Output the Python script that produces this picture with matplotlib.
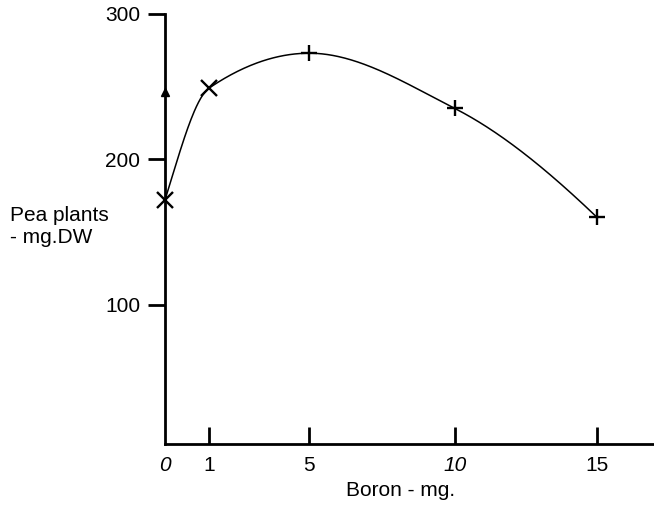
import numpy as np
import matplotlib.pyplot as plt

plt.rcParams['font.family'] = ['Liberation Sans', 'DejaVu Sans']

# measured data
boron = [0, 1, 5, 10, 15]
dry_weight = [172, 249, 273, 235, 160]
point_markers = ['x', 'x', '+', '+', '+']
arrow_x, arrow_y = 0, 246

x_ticks = [0, 1, 5, 10, 15]
y_ticks = [100, 200, 300]

# the original x axis is not evenly spaced: piecewise-linear scale
x_knots = [0, 1, 5, 10, 15, 20]
x_pos = [0, 44, 144, 289, 431, 573]


def forward(x):
    return np.interp(x, x_knots, x_pos)


def inverse(u):
    return np.interp(u, x_pos, x_knots)


def pchip(u, y, uu):
    # shape-preserving cubic (Fritsch-Carlson), keeps the peak at the data point
    u = np.asarray(u, float)
    y = np.asarray(y, float)
    h = np.diff(u)
    delta = np.diff(y) / h
    n = len(u)
    d = np.zeros(n)
    for k in range(1, n - 1):
        if delta[k - 1] * delta[k] > 0:
            w1 = 2 * h[k] + h[k - 1]
            w2 = h[k] + 2 * h[k - 1]
            d[k] = (w1 + w2) / (w1 / delta[k - 1] + w2 / delta[k])
    d[0] = ((2 * h[0] + h[1]) * delta[0] - h[0] * delta[1]) / (h[0] + h[1])
    if np.sign(d[0]) != np.sign(delta[0]):
        d[0] = 0
    elif np.sign(delta[0]) != np.sign(delta[1]) and abs(d[0]) > abs(3 * delta[0]):
        d[0] = 3 * delta[0]
    d[-1] = ((2 * h[-1] + h[-2]) * delta[-1] - h[-1] * delta[-2]) / (h[-1] + h[-2])
    if np.sign(d[-1]) != np.sign(delta[-1]):
        d[-1] = 0
    idx = np.clip(np.searchsorted(u, uu) - 1, 0, n - 2)
    t = (uu - u[idx]) / h[idx]
    h00 = 2 * t ** 3 - 3 * t ** 2 + 1
    h10 = t ** 3 - 2 * t ** 2 + t
    h01 = -2 * t ** 3 + 3 * t ** 2
    h11 = t ** 3 - t ** 2
    return (h00 * y[idx] + h10 * h[idx] * d[idx]
            + h01 * y[idx + 1] + h11 * h[idx] * d[idx + 1])


fig = plt.figure(figsize=(6.54, 5.08), dpi=100)
ax = fig.add_axes([0.2523, 0.126, 0.7477, 0.8465])
ax.set_xscale('function', functions=(forward, inverse))

u_pts = forward(np.array(boron, float))
uu = np.linspace(u_pts[0], u_pts[-1], 400)
ax.plot(inverse(uu), pchip(u_pts, dry_weight, uu), color='black', lw=1.1)

for xv, yv, mk in zip(boron, dry_weight, point_markers):
    ax.plot(xv, yv, marker=mk, color='black', markersize=12, mew=1.7, clip_on=False)
ax.plot(arrow_x, arrow_y, marker='^', color='black', markersize=6, clip_on=False)

ax.set_xlim(0, 17)
ax.set_ylim(4, 300)
ax.spines['top'].set_visible(False)
ax.spines['right'].set_visible(False)
ax.spines['left'].set_linewidth(2)
ax.spines['bottom'].set_linewidth(2)

ax.set_xticks(x_ticks)
ax.set_xticklabels([str(v) for v in x_ticks])
for lbl in ax.get_xticklabels():
    if lbl.get_text() in ('0', '10'):
        lbl.set_style('italic')
ax.set_yticks(y_ticks)
ax.tick_params(axis='x', direction='in', length=12, width=2, pad=9, labelsize=15)
ax.tick_params(axis='y', direction='out', length=12, width=2, pad=6, labelsize=15)
ax.xaxis.get_major_ticks()[0].tick1line.set_visible(False)

fig.text(0.612, 0.035, 'Boron - mg.', ha='center', va='center', fontsize=15)
fig.text(0.015, 0.555, 'Pea plants\n- mg.DW', ha='left', va='center', fontsize=15,
         linespacing=1.2)

fig.savefig('out.png', dpi=100)
